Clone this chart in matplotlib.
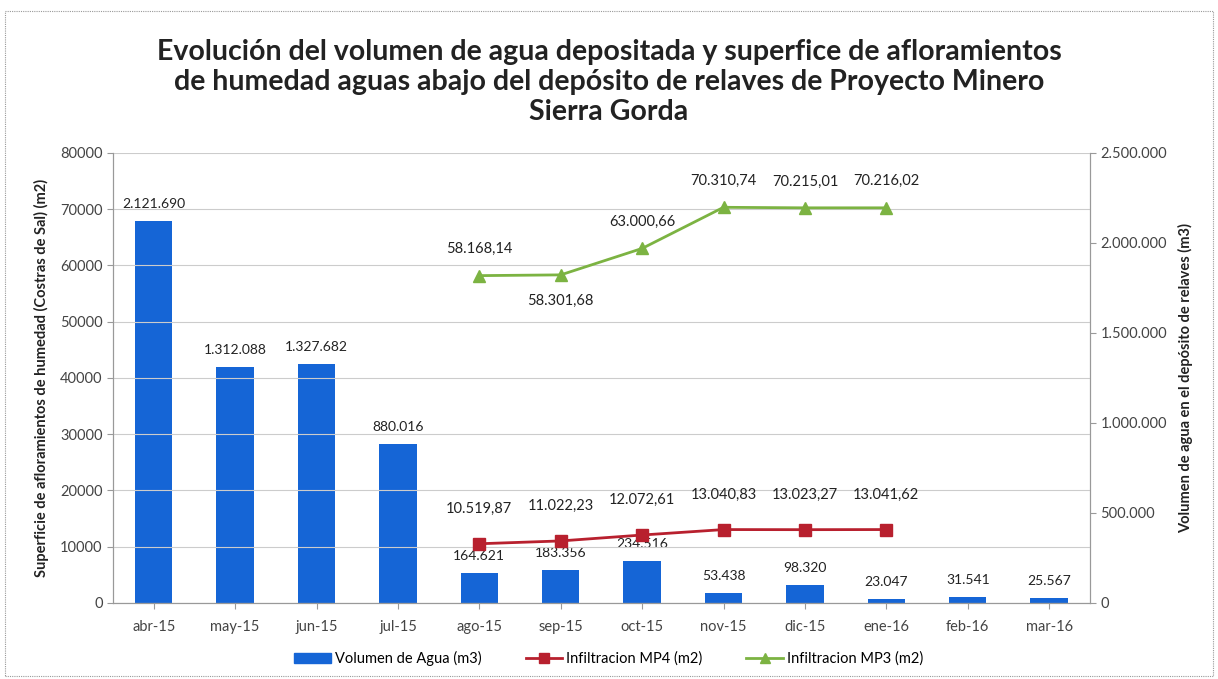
import numpy as np
import matplotlib
matplotlib.use("Agg")
import matplotlib.pyplot as plt
from matplotlib.lines import Line2D
from matplotlib.patches import Patch

plt.rcParams['font.family'] = ['Lato', 'DejaVu Sans']

meses = ["abr-15", "may-15", "jun-15", "jul-15", "ago-15", "sep-15",
         "oct-15", "nov-15", "dic-15", "ene-16", "feb-16", "mar-16"]
volumen = [2121690, 1312088, 1327682, 880016, 164621, 183356,
           234516, 53438, 98320, 23047, 31541, 25567]
# infiltraciones solo desde ago-15 hasta ene-16
idx_inf = [4, 5, 6, 7, 8, 9]
mp4 = [10519.87, 11022.23, 12072.61, 13040.83, 13023.27, 13041.62]
mp3 = [58168.14, 58301.68, 63000.66, 70310.74, 70215.01, 70216.02]
# posicion de la etiqueta de MP3 (arriba / abajo)
mp3_pos = ["up", "down", "up", "up", "up", "up"]


def fmt_miles(v):
    return f"{v:,.0f}".replace(",", ".")


def fmt_dec(v):
    s = f"{v:,.2f}"
    return s.replace(",", "X").replace(".", ",").replace("X", ".")


azul = "#1565d6"
rojo = "#b8202e"
verde = "#7cb342"
txt = "#222222"
gris = "#444444"

fig = plt.figure(figsize=(12.18, 6.79), dpi=100)
fig.patches.append(plt.Rectangle((0.004, 0.004), 0.992, 0.98, transform=fig.transFigure,
                                 fill=False, edgecolor="#999999", linewidth=0.8, linestyle=(0, (1, 1))))

ax = fig.add_axes([0.0928, 0.112, 0.802, 0.663])
ax2 = ax.twinx()

x = np.arange(len(meses))

# barras en el eje derecho
ax2.bar(x, volumen, width=0.46, color=azul, zorder=2)
ax2.set_ylim(0, 2500000)
ax2.set_yticks(np.arange(0, 2500001, 500000))
ax2.set_yticklabels([fmt_miles(v) for v in np.arange(0, 2500001, 500000)])
for xi, v in zip(x, volumen):
    ax2.annotate(fmt_miles(v), (xi, v), xytext=(0, 8), textcoords="offset points",
                 ha="center", va="bottom", fontsize=10, color=txt)

# lineas en el eje izquierdo (dibujadas encima)
ax.set_zorder(ax2.get_zorder() + 1)
ax.patch.set_visible(False)
xi_inf = x[idx_inf]
ax.plot(xi_inf, mp4, color=rojo, marker="s", markersize=8, linewidth=2, zorder=3)
ax.plot(xi_inf, mp3, color=verde, marker="^", markersize=8, linewidth=2, zorder=3)
for xi, v in zip(xi_inf, mp4):
    ax.annotate(fmt_dec(v), (xi, v), xytext=(0, 20), textcoords="offset points",
                ha="center", va="bottom", fontsize=10.5, color=txt)
for xi, v, p in zip(xi_inf, mp3, mp3_pos):
    if p == "up":
        ax.annotate(fmt_dec(v), (xi, v), xytext=(0, 14), textcoords="offset points",
                    ha="center", va="bottom", fontsize=10.5, color=txt)
    else:
        ax.annotate(fmt_dec(v), (xi, v), xytext=(0, -14), textcoords="offset points",
                    ha="center", va="top", fontsize=10.5, color=txt)

ax.set_ylim(0, 80000)
ax.set_yticks(np.arange(0, 80001, 10000))
ax.set_xlim(-0.5, len(meses) - 0.5)
ax.set_xticks(x)
ax.set_xticklabels(meses)
ax.grid(axis="y", color="#cccccc", linewidth=0.8)
ax.set_axisbelow(True)

for a in (ax, ax2):
    a.spines["top"].set_visible(False)
    a.spines["left"].set_color("#999999")
    a.spines["right"].set_color("#999999")
    a.spines["bottom"].set_color("#999999")
    a.tick_params(axis="both", colors="#999999", labelcolor=gris, labelsize=10.5, length=4)
ax.tick_params(axis="x", pad=8)

ax.set_ylabel("Superficie de afloramientos de humedad (Costras de Sal) (m2)",
              fontsize=10.5, fontweight="bold", color=txt, labelpad=8)
ax2.set_ylabel("Volumen de agua en el depósito de relaves (m3)",
               fontsize=10.5, fontweight="bold", color=txt, labelpad=8)

fig.text(0.5, 0.879, "Evolución del volumen de agua depositada y superfice de afloramientos\n"
         "de humedad aguas abajo del depósito de relaves de Proyecto Minero\nSierra Gorda",
         ha="center", va="center", fontsize=20.5, fontweight="bold", color=txt, linespacing=1.2)

handles = [Patch(color=azul),
           Line2D([], [], color=rojo, marker="s", markersize=7, linewidth=2),
           Line2D([], [], color=verde, marker="^", markersize=7, linewidth=2)]
labels = ["Volumen de Agua (m3)", "Infiltracion MP4 (m2)", "Infiltracion MP3 (m2)"]
fig.legend(handles, labels, loc="lower center", bbox_to_anchor=(0.5, 0.0), ncol=3,
           frameon=False, fontsize=10.5, handlelength=2.5, handletextpad=0.3, columnspacing=3)

fig.savefig("out.png", dpi=100)
